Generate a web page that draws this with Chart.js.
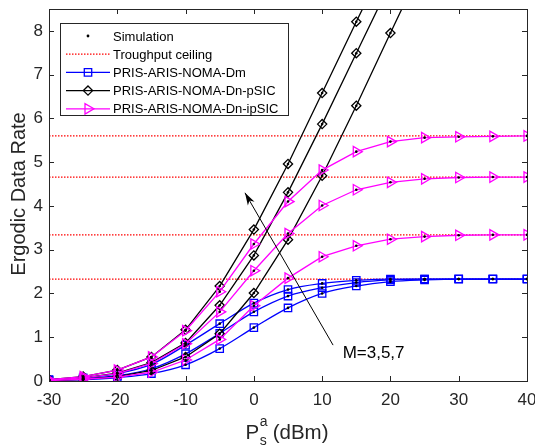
<!DOCTYPE html>
<html>
<head>
<meta charset="utf-8">
<script src="https://cdn.jsdelivr.net/npm/chart.js@4.4.1/dist/chart.umd.min.js"></script>
<style>
  html, body { margin: 0; padding: 0; background: #fff; }
  #wrap { width: 535px; height: 446px; }
</style>
</head>
<body>
<div id="wrap"><canvas id="chart" width="535" height="446"></canvas></div>
<script>
// transmit power P_s^a in dBm
const powerDbm = [-30, -25, -20, -15, -10, -5, 0, 5, 10, 15, 20, 25, 30, 35, 40];

// PRIS-ARIS-NOMA-Dm (blue, squares) for M = 3, 5, 7
const dmM3 = [0.01, 0.03, 0.08, 0.17, 0.37, 0.74, 1.22, 1.67, 2.00, 2.17, 2.27, 2.31, 2.33, 2.33, 2.33];
const dmM5 = [0.02, 0.05, 0.12, 0.28, 0.62, 1.09, 1.58, 1.94, 2.13, 2.25, 2.31, 2.33, 2.33, 2.33, 2.33];
const dmM7 = [0.03, 0.07, 0.17, 0.38, 0.82, 1.31, 1.78, 2.09, 2.23, 2.30, 2.33, 2.33, 2.33, 2.33, 2.33];

// PRIS-ARIS-NOMA-Dn-pSIC (black, diamonds) - goes off the top of the plot
const psicM3 = [0.01, 0.04, 0.10, 0.24, 0.55, 1.08, 2.01, 3.23, 4.69, 6.29, 7.95, 9.6, null, null, null];
const psicM5 = [0.02, 0.07, 0.18, 0.42, 0.87, 1.73, 2.87, 4.31, 5.87, 7.49, 9.1, null, null, null, null];
const psicM7 = [0.03, 0.10, 0.25, 0.55, 1.17, 2.17, 3.46, 4.96, 6.58, 8.21, 9.8, null, null, null, null];

// PRIS-ARIS-NOMA-Dn-ipSIC (magenta, right triangles)
const ipsicM3 = [0.01, 0.04, 0.09, 0.20, 0.48, 0.95, 1.72, 2.35, 2.84, 3.09, 3.24, 3.30, 3.33, 3.34, 3.34];
const ipsicM5 = [0.02, 0.07, 0.17, 0.40, 0.85, 1.58, 2.52, 3.37, 4.01, 4.37, 4.54, 4.62, 4.65, 4.66, 4.66];
const ipsicM7 = [0.03, 0.10, 0.25, 0.55, 1.15, 2.04, 3.13, 4.10, 4.82, 5.24, 5.47, 5.56, 5.58, 5.59, 5.60];

// throughput ceilings (red dotted)
const ceilings = [2.33, 3.34, 4.66, 5.60];

const xTicks = [-30, -20, -10, 0, 10, 20, 30, 40];
const yTicks = [0, 1, 2, 3, 4, 5, 6, 7, 8];

const FONT = "'Liberation Sans', Arial, Helvetica, sans-serif";
const AXIS = '#262626';

const toXY = vals => powerDbm.map((x, i) => ({ x: x, y: vals[i] }));

const allSeries = [ipsicM7, ipsicM5, ipsicM3, psicM7, psicM5, psicM3, dmM7, dmM5, dmM3];
const simPoints = [];
allSeries.forEach(s => s.forEach((v, i) => { if (v !== null) simPoints.push({ x: powerDbm[i], y: v }); }));

function lineSet(vals, color, style, radius, rotation, smooth) {
    return {
        data: toXY(vals),
        borderColor: color,
        borderWidth: 1.3,
        pointStyle: style,
        pointRadius: radius,
        pointRotation: rotation,
        pointBorderColor: color,
        pointBorderWidth: 1.3,
        pointBackgroundColor: 'rgba(0,0,0,0)',
        tension: 0,
        cubicInterpolationMode: smooth ? 'monotone' : 'default',
        spanGaps: false
    };
}

const datasets = [];
datasets.push({
    data: simPoints, showLine: false, pointStyle: 'circle', pointRadius: 1.3,
    pointBackgroundColor: '#000', pointBorderWidth: 0
});
[ipsicM7, ipsicM5, ipsicM3].forEach(s => datasets.push(lineSet(s, '#ff00ff', 'triangle', 6, 90, false)));
[psicM7, psicM5, psicM3].forEach(s => datasets.push(lineSet(s, '#000000', 'rectRot', 4.6, 0, false)));
[dmM7, dmM5, dmM3].forEach(s => datasets.push(lineSet(s, '#0000ff', 'rect', 5.2, 0, true)));
ceilings.forEach(c => datasets.push({
    data: [{ x: powerDbm[0], y: c }, { x: powerDbm[powerDbm.length - 1], y: c }],
    borderColor: '#ff0000', borderWidth: 1.2, borderDash: [1.5, 1.5], pointRadius: 0
}));

function marker(ctx, style, x, y, color) {
    ctx.save();
    ctx.strokeStyle = color;
    ctx.fillStyle = color;
    ctx.lineWidth = 1.3;
    ctx.beginPath();
    if (style === 'rect') {
        ctx.rect(x - 3.7, y - 3.7, 7.4, 7.4);
        ctx.stroke();
    } else if (style === 'diamond') {
        ctx.moveTo(x, y - 4.6); ctx.lineTo(x + 4.6, y); ctx.lineTo(x, y + 4.6); ctx.lineTo(x - 4.6, y);
        ctx.closePath(); ctx.stroke();
    } else if (style === 'tri') {
        ctx.moveTo(x + 6, y); ctx.lineTo(x - 3, y - 5.2); ctx.lineTo(x - 3, y + 5.2);
        ctx.closePath(); ctx.stroke();
    } else if (style === 'dot') {
        ctx.arc(x, y, 1.4, 0, Math.PI * 2); ctx.fill();
    }
    ctx.restore();
}

const frame = {
    id: 'frame',
    afterDraw(chart) {
        const { ctx, chartArea: a, scales } = chart;
        const xs = scales.x, ys = scales.y;
        ctx.save();

        // box and inward ticks
        ctx.strokeStyle = AXIS;
        ctx.lineWidth = 1;
        ctx.strokeRect(Math.round(a.left) + 0.5, Math.round(a.top) + 0.5,
            Math.round(a.right - a.left), Math.round(a.bottom - a.top));
        ctx.beginPath();
        xTicks.forEach(v => {
            const px = Math.round(xs.getPixelForValue(v)) + 0.5;
            ctx.moveTo(px, a.bottom); ctx.lineTo(px, a.bottom - 5);
            ctx.moveTo(px, a.top); ctx.lineTo(px, a.top + 5);
        });
        yTicks.forEach(v => {
            const py = Math.round(ys.getPixelForValue(v)) + 0.5;
            ctx.moveTo(a.left, py); ctx.lineTo(a.left + 5, py);
            ctx.moveTo(a.right, py); ctx.lineTo(a.right - 5, py);
        });
        ctx.stroke();

        // M=3,5,7 arrow
        const x0 = xs.getPixelForValue(11.6), y0 = ys.getPixelForValue(0.82);
        const x1 = xs.getPixelForValue(-1.3), y1 = ys.getPixelForValue(4.3);
        ctx.strokeStyle = '#000';
        ctx.beginPath(); ctx.moveTo(x0, y0); ctx.lineTo(x1, y1); ctx.stroke();
        const ang = Math.atan2(y1 - y0, x1 - x0);
        ctx.fillStyle = '#000';
        ctx.beginPath();
        ctx.moveTo(x1, y1);
        ctx.lineTo(x1 - 13 * Math.cos(ang - 0.3), y1 - 13 * Math.sin(ang - 0.3));
        ctx.lineTo(x1 - 9 * Math.cos(ang), y1 - 9 * Math.sin(ang));
        ctx.lineTo(x1 - 13 * Math.cos(ang + 0.3), y1 - 13 * Math.sin(ang + 0.3));
        ctx.closePath(); ctx.fill();
        ctx.font = '17px ' + FONT;
        ctx.textAlign = 'left';
        ctx.textBaseline = 'middle';
        ctx.fillStyle = '#000';
        ctx.fillText('M=3,5,7', xs.getPixelForValue(13.0), ys.getPixelForValue(0.64));

        // legend
        const lx = 60, ly = 23, lw = 228, lh = 92;
        ctx.fillStyle = '#fff';
        ctx.fillRect(lx, ly, lw, lh);
        ctx.strokeStyle = AXIS;
        ctx.strokeRect(lx + 0.5, ly + 0.5, lw, lh);
        const rows = [
            { label: 'Simulation', color: '#000', marker: 'dot', line: null },
            { label: 'Troughput ceiling', color: '#ff0000', marker: null, line: 'dot' },
            { label: 'PRIS-ARIS-NOMA-Dm', color: '#0000ff', marker: 'rect', line: 'solid' },
            { label: 'PRIS-ARIS-NOMA-Dn-pSIC', color: '#000000', marker: 'diamond', line: 'solid' },
            { label: 'PRIS-ARIS-NOMA-Dn-ipSIC', color: '#ff00ff', marker: 'tri', line: 'solid' }
        ];
        ctx.font = '13px ' + FONT;
        rows.forEach((r, i) => {
            const yy = 36 + i * 18.2;
            if (r.line) {
                ctx.save();
                ctx.strokeStyle = r.color;
                ctx.lineWidth = r.line === 'dot' ? 1.2 : 1.3;
                if (r.line === 'dot') ctx.setLineDash([1.5, 1.5]);
                ctx.beginPath(); ctx.moveTo(66, yy); ctx.lineTo(110, yy); ctx.stroke();
                ctx.restore();
            }
            if (r.marker) marker(ctx, r.marker, 88, yy, r.color);
            ctx.fillStyle = '#000';
            ctx.textAlign = 'left';
            ctx.textBaseline = 'middle';
            ctx.fillText(r.label, 113, yy + 1);
        });

        // axis titles
        ctx.fillStyle = AXIS;
        ctx.save();
        ctx.translate(19, 194);
        ctx.rotate(-Math.PI / 2);
        ctx.font = '20px ' + FONT;
        ctx.textAlign = 'center';
        ctx.textBaseline = 'middle';
        ctx.fillText('Ergodic Data Rate', 0, 0);
        ctx.restore();

        ctx.textBaseline = 'alphabetic';
        ctx.textAlign = 'left';
        ctx.font = '20.5px ' + FONT;
        const wP = ctx.measureText('P').width;
        const wRest = ctx.measureText(' (dBm)').width;
        ctx.font = '14px ' + FONT;
        const wSub = ctx.measureText('a').width;
        const total = wP + wSub + wRest;
        let tx = 287 - total / 2;
        const base = 439;
        ctx.font = '20.5px ' + FONT;
        ctx.fillText('P', tx, base);
        ctx.font = '14px ' + FONT;
        ctx.fillText('a', tx + wP + 0.5, base - 13);
        ctx.fillText('s', tx + wP + 0.5, base + 6);
        ctx.font = '20.5px ' + FONT;
        ctx.fillText(' (dBm)', tx + wP + wSub, base);
        ctx.restore();
    }
};

new Chart(document.getElementById('chart'), {
    type: 'line',
    data: { datasets: datasets },
    options: {
        responsive: false,
        animation: false,
        devicePixelRatio: 1,
        layout: { padding: { top: 9, right: 8, left: 0, bottom: 0 } },
        plugins: { legend: { display: false }, tooltip: { enabled: false } },
        scales: {
            x: {
                type: 'linear', min: -30, max: 40,
                grid: { display: false, drawTicks: false },
                border: { display: false },
                ticks: { stepSize: 10, padding: 9, color: AXIS, font: { family: FONT, size: 17 } },
                afterBuildTicks: s => { s.ticks = xTicks.map(v => ({ value: v })); },
                afterFit: s => { s.height = 65; s.paddingLeft = 0; s.paddingRight = 0; }
            },
            y: {
                type: 'linear', min: 0, max: 8.5,
                grid: { display: false, drawTicks: false },
                border: { display: false },
                ticks: { stepSize: 1, padding: 6, color: AXIS, font: { family: FONT, size: 17 } },
                afterBuildTicks: s => { s.ticks = yTicks.map(v => ({ value: v })); },
                afterFit: s => { s.width = 49; s.paddingTop = 0; s.paddingBottom = 0; }
            }
        }
    },
    plugins: [frame]
});
</script>
</body>
</html>
